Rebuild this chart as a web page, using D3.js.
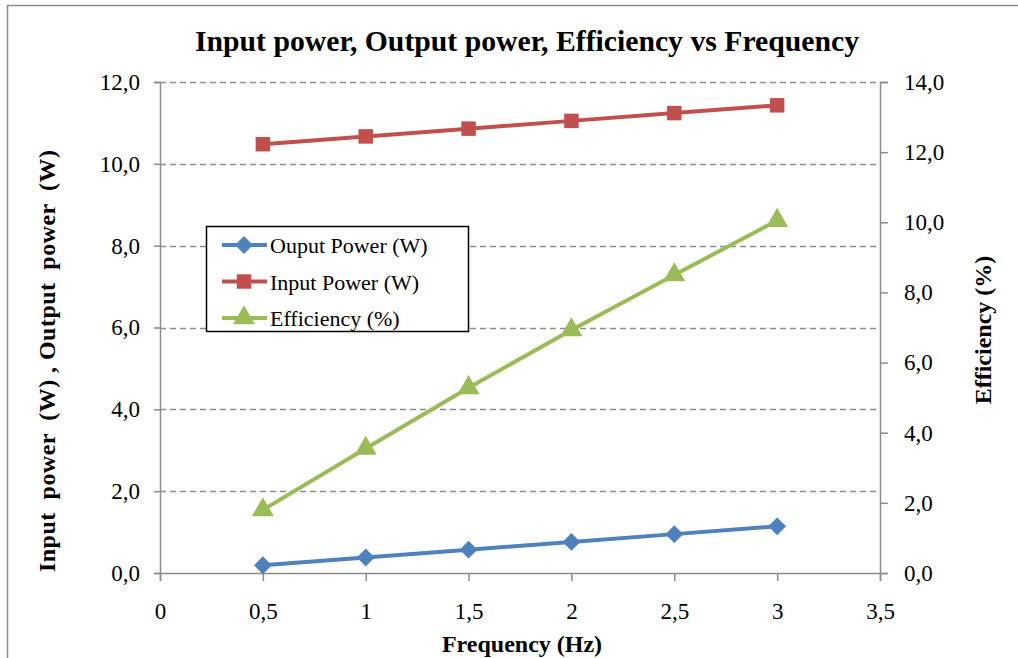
<!DOCTYPE html>
<html>
<head>
<meta charset="utf-8">
<script src="https://cdn.jsdelivr.net/npm/d3@7"></script>
<style>
	body { margin: 0; background: #fff; }
	text { font-family: 'Liberation Serif', 'Times New Roman', serif; fill: #000; }
</style>
</head>
<body>
<svg width="1018" height="658"></svg>
<script>
// chart values
const frequency = [0.5, 1, 1.5, 2, 2.5, 3]
const outputPower = [0.19, 0.38, 0.57, 0.76, 0.95, 1.14]
const inputPower = [10.48, 10.67, 10.86, 11.05, 11.24, 11.43]
const efficiency = [1.8, 3.55, 5.28, 6.93, 8.5, 10.05]
const xTicks = [0, 0.5, 1, 1.5, 2, 2.5, 3, 3.5]
const leftTicks = [0, 2, 4, 6, 8, 10, 12]
const rightTicks = [0, 2, 4, 6, 8, 10, 12, 14]
const seriesNames = ['Ouput Power (W)', 'Input Power (W)', 'Efficiency (%)']

const svg = d3.select('svg')
const m = { left: 160, right: 880, top: 82, bottom: 573 }
const comma = v => String(v).replace('.', ',')
const oneDec = v => v.toFixed(1).replace('.', ',')

let x = d3.scaleLinear().domain([0, 3.5]).range([m.left, m.right])
let yL = d3.scaleLinear().domain([0, 12]).range([m.bottom, m.top])
let yR = d3.scaleLinear().domain([0, 14]).range([m.bottom, m.top])

// outer frame
svg.append('path').attr('d', 'M7.5,658 V5.5 H1018')
	.attr('fill', 'none').attr('stroke', '#8c8c8c').attr('stroke-width', 1.5)

// grid
svg.append('g').selectAll('line').data(leftTicks.slice(1)).enter().append('line')
	.attr('x1', m.left).attr('x2', m.right)
	.attr('y1', d => Math.round(yL(d)) + 0.5).attr('y2', d => Math.round(yL(d)) + 0.5)
	.attr('stroke', '#8c8c8c').attr('stroke-width', 1.5).attr('stroke-dasharray', '6,4')

const axisStyle = g => {
	g.attr('font-family', null).attr('font-size', null)
	g.select('.domain').attr('stroke', '#8c8c8c').attr('stroke-width', 1.5)
	g.selectAll('.tick line').attr('stroke', '#8c8c8c').attr('stroke-width', 1.5)
	g.selectAll('.tick text').style('font-size', '23px').attr('fill', '#000')
}

svg.append('g').attr('transform', `translate(0,${m.bottom})`)
	.call(d3.axisBottom(x).tickValues(xTicks).tickFormat(comma).tickSizeOuter(0).tickSize(8).tickPadding(22))
	.call(axisStyle)

svg.append('g').attr('transform', `translate(${m.left},0)`)
	.call(d3.axisLeft(yL).tickValues(leftTicks).tickFormat(oneDec).tickSizeOuter(0).tickSize(6).tickPadding(14))
	.call(axisStyle)

svg.append('g').attr('transform', `translate(${m.right},0)`)
	.call(d3.axisRight(yR).tickValues(rightTicks).tickFormat(oneDec).tickSizeOuter(0).tickSize(8).tickPadding(16))
	.call(axisStyle)

// titles
svg.append('text').attr('x', 527).attr('y', 51).attr('text-anchor', 'middle')
	.style('font-size', '29px').attr('font-weight', 'bold')
	.attr('textLength', 664).attr('lengthAdjust', 'spacingAndGlyphs')
	.text('Input power, Output power, Efficiency vs Frequency')

svg.append('text').attr('x', 522).attr('y', 652).attr('text-anchor', 'middle')
	.style('font-size', '24px').attr('font-weight', 'bold').text('Frequency (Hz)')

svg.append('text').attr('transform', 'translate(55,361) rotate(-90)').attr('text-anchor', 'middle')
	.style('font-size', '24px').attr('font-weight', 'bold').attr('xml:space', 'preserve')
	.attr('textLength', 422)
	.text('Input  power  (W) , Output  power  (W)')

svg.append('text').attr('transform', 'translate(991,330) rotate(-90)').attr('text-anchor', 'middle')
	.style('font-size', '24px').attr('font-weight', 'bold').text('Efficiency (%)')

// series
const colors = ['#4f81bd', '#c0504d', '#9bbb59']
const symbols = [d3.symbolSquare, d3.symbolSquare, d3.symbolTriangle]
const symSize = [160, 210, 210]
const series = [
	{ vals: outputPower, y: yL },
	{ vals: inputPower, y: yL },
	{ vals: efficiency, y: yR }
]
const markAt = (i, px, py) => `translate(${px},${py})` + (i === 0 ? ' rotate(45)' : '')

series.forEach((s, i) => {
	let pts = frequency.map((f, j) => [x(f), s.y(s.vals[j])])
	svg.append('path').attr('d', d3.line()(pts))
		.attr('fill', 'none').attr('stroke', colors[i]).attr('stroke-width', 4)
	svg.append('g').selectAll('path').data(pts).enter().append('path')
		.attr('transform', d => markAt(i, d[0], d[1]))
		.attr('d', d3.symbol().type(symbols[i]).size(symSize[i]))
		.attr('fill', colors[i])
})

// legend
let legend = svg.append('g').attr('id', 'legend')
legend.append('rect').attr('x', 206.5).attr('y', 226.5).attr('width', 262).attr('height', 105)
	.attr('fill', '#fff').attr('stroke', '#000').attr('stroke-width', 1.5)

seriesNames.forEach((name, i) => {
	let ly = 245 + i * 36.5
	legend.append('line').attr('x1', 222).attr('x2', 267).attr('y1', ly).attr('y2', ly)
		.attr('stroke', colors[i]).attr('stroke-width', 4)
	legend.append('path').attr('transform', markAt(i, 244, ly))
		.attr('d', d3.symbol().type(symbols[i]).size(symSize[i])).attr('fill', colors[i])
	legend.append('text').attr('x', 270).attr('y', ly + 8).style('font-size', '22px').text(name)
})
</script>
</body>
</html>
